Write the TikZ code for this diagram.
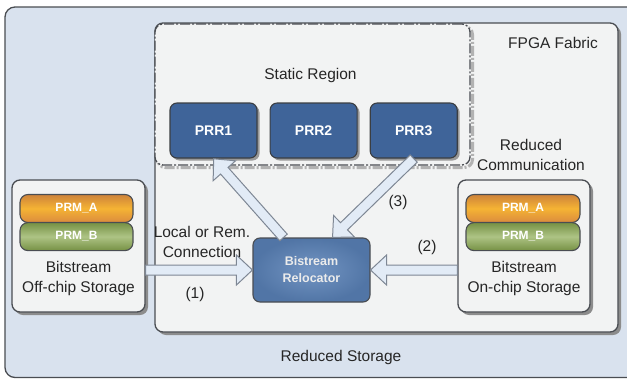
\documentclass[tikz,border=0pt]{standalone}
\usepackage{fontspec}
\setmainfont{Liberation Sans}
\usetikzlibrary{positioning}
\usetikzlibrary{calc}
\usetikzlibrary{shadows}

\definecolor{bgblue}{HTML}{D9E2EE}
\definecolor{fabricgray}{HTML}{F2F3F3}
\definecolor{linegray}{HTML}{4A4D52}
\definecolor{prrblue}{HTML}{3F6499}
\definecolor{relocblue}{HTML}{5A82B8}
\definecolor{prmorange}{HTML}{F29A45}
\definecolor{prmgreen}{HTML}{8AAA50}
\definecolor{arrowfill}{HTML}{E2EBF6}
\definecolor{arrowline}{HTML}{7E8794}

% hollow block arrow from #1 to #2
\newcommand{\blockarrow}[2]{%
	\draw[blockarr] let \p1 = (#1), \p2 = (#2),
		\n1 = {atan2(\y2-\y1,\x2-\x1)}, \n2 = {veclen(\x2-\x1,\y2-\y1)} in
		[shift={(\p1)}, rotate=\n1]
		(0pt,-5pt) -- (\n2-16pt,-5pt) -- (\n2-16pt,-15pt) -- (\n2,0pt)
		-- (\n2-16pt,15pt) -- (\n2-16pt,5pt) -- (0pt,5pt) -- cycle;
}

\begin{document}
\begin{tikzpicture}[
	x = 1pt, y = 1pt,
	txt/.style = {
	  font = \fontsize{15.5}{20}\selectfont, text = black!85,
	  align = center, inner sep = 0pt,
	},
	panel/.style = {
	  draw = linegray, line width = 1.3pt, fill = fabricgray,
	  rounded corners = 8pt, inner sep = 0pt,
	  drop shadow = {shadow xshift = 3pt, shadow yshift = -3pt,
		fill = black!45, opacity = 1},
	},
	region/.style = {
	  draw = linegray, line width = 1.3pt, fill = fabricgray,
	  rounded corners = 8pt, inner sep = 0pt,
	  dash pattern = on 10pt off 2pt on 2pt off 2pt,
	  preaction = {draw = black!30, line width = 3pt,
		dash pattern = on 10pt off 2pt on 2pt off 2pt,
		transform canvas = {xshift = 2.5pt, yshift = -2.5pt}},
	},
	prr/.style = {
	  draw = linegray!80!black, line width = 1.1pt, fill = prrblue,
	  rounded corners = 7pt, inner sep = 0pt,
	  minimum width = 87pt, minimum height = 55pt,
	  text = white, font = \fontsize{14}{16}\selectfont\bfseries,
	  drop shadow = {shadow xshift = 2.5pt, shadow yshift = -2.5pt,
		fill = black!40, opacity = 1},
	},
	prm/.style = {
	  draw = linegray, line width = 1.1pt, rounded corners = 8pt,
	  inner sep = 0pt, minimum height = 28pt,
	  text = white, font = \fontsize{12}{14}\selectfont\bfseries,
	},
	blockarr/.style = {
	  draw = arrowline, line width = 1pt, fill = arrowfill,
	  line join = miter,
	},
  ]

  \useasboundingbox (0,0) rectangle (627,-378);

  % background: reduced storage
  \fill[bgblue] (627,-7) [rounded corners = 10pt] -- (5,-7) -- (5,-377.5)
	[sharp corners] -- (627,-377.5) -- cycle;
  \draw[linegray, line width = 1.3pt, rounded corners = 10pt]
	(627,-7) -- (5,-7) -- (5,-377.5) -- (627,-377.5);

  % fpga fabric and static region
  \node[panel, minimum width = 463pt, minimum height = 309pt]
	(fabric) at (386.5,-177.5) {};
  \node[region, minimum width = 315pt, minimum height = 141pt]
	(static) at (312.5,-94.5) {};

  \node[prr] (prr1) at (213.5,-130.5) {PRR1};
  \node[prr, right = 12pt of prr1] (prr2) {PRR2};
  \node[prr, right = 12pt of prr2] (prr3) {PRR3};

  % bitstream storages
  \node[panel, minimum width = 133pt, minimum height = 132pt]
	(offchip) at (78.5,-246) {};
  \node[prm, minimum width = 113pt, top color = prmorange!85!black,
	bottom color = prmorange!90!black, middle color = prmorange!75!yellow]
	(prmAoff) at (76.5,-208.5) {PRM\_A};
  \node[prm, minimum width = 113pt, top color = prmgreen!85!black,
	bottom color = prmgreen!85!black, middle color = prmgreen!70!white,
	below = -1pt of prmAoff] (prmBoff) {PRM\_B};

  \node[panel, minimum width = 132pt, minimum height = 132pt]
	(onchip) at (524,-246) {};
  \node[prm, minimum width = 114pt, top color = prmorange!85!black,
	bottom color = prmorange!90!black, middle color = prmorange!75!yellow]
	(prmAon) at (523,-208.5) {PRM\_A};
  \node[prm, minimum width = 114pt, top color = prmgreen!85!black,
	bottom color = prmgreen!85!black, middle color = prmgreen!70!white,
	below = -1pt of prmAon] (prmBon) {PRM\_B};

  % relocator
  \node[draw = linegray, line width = 1.1pt, rounded corners = 7pt,
	inner color = relocblue!85!white, outer color = relocblue!90!black,
	minimum width = 117pt, minimum height = 64pt, align = center,
	text = white!92!black, font = \fontsize{12.5}{17}\selectfont\bfseries]
	(reloc) at (311.5,-270) {Bistream\\Relocator};

  % transfers
  \blockarrow{offchip.east |- reloc.west}{reloc.west}
  \blockarrow{onchip.west |- reloc.east}{reloc.east}
  \blockarrow{prr3.south}{[xshift=21pt]reloc.north}
  \blockarrow{[xshift=-28pt]reloc.north}{prr1.south}

  % labels
  \node[txt] (lstatic) at (310.5,-75) {Static Region};
  \node[txt] (lfabric) at (553,-43) {FPGA Fabric};
  \node[txt] (lcomm) at (531,-155) {Reduced\\Communication};
  \node[txt] (lstorage) at (341,-357) {Reduced Storage};
  \node[txt] (loff) at (78.5,-278) {Bitstream\\Off-chip Storage};
  \node[txt] (lon) at (524,-278) {Bitstream\\On-chip Storage};
  \node[txt] (lconn) at (202,-242) {Local or Rem.\\Connection};
  \node[txt] (lone) at (195,-294) {(1)};
  \node[txt] (ltwo) at (427,-247) {(2)};
  \node[txt] (lthree) at (398,-202) {(3)};
\end{tikzpicture}
\end{document}
